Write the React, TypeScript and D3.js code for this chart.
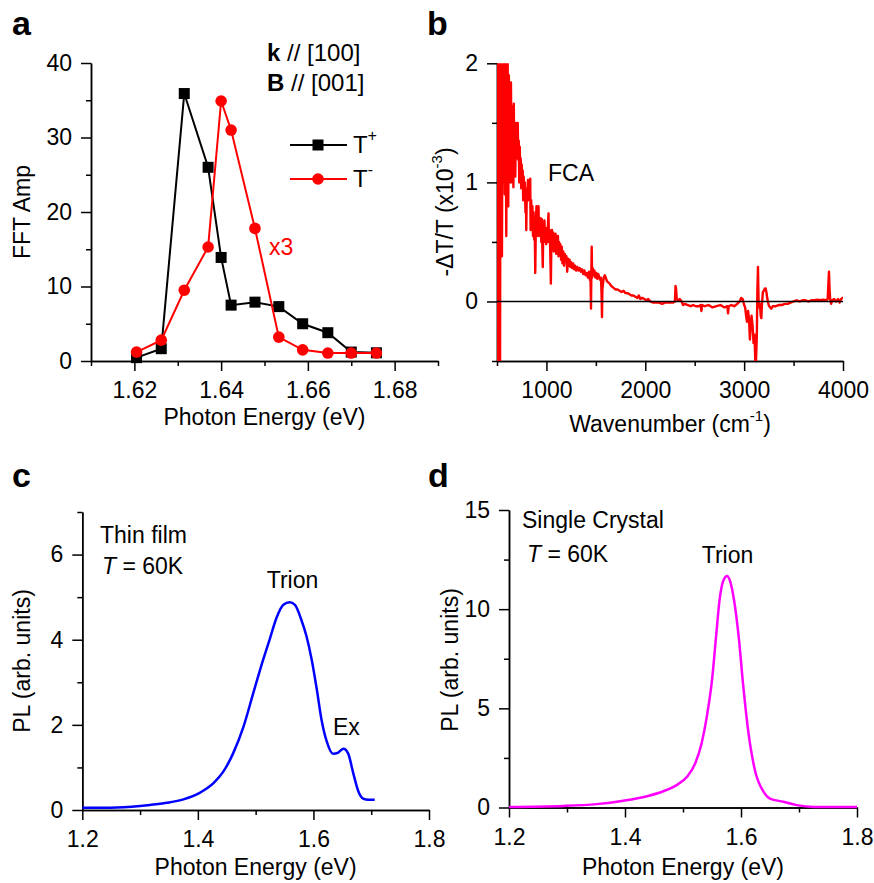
import * as d3 from 'd3';
import React, { useEffect, useRef } from 'react';

// panel a: FFT amplitude of the two trion branches
const panelAEnergy = [1.6205, 1.6262, 1.6315, 1.6370, 1.6400, 1.6423, 1.6478, 1.6533, 1.6588, 1.6646, 1.6700, 1.6758];
const tPlusAmp = [0.45, 1.65, 35.9, 26.0, 13.9, 7.5, 7.9, 7.3, 5.0, 3.8, 1.2, 1.1];
const tMinusAmp = [1.2, 2.8, 9.5, 15.3, 34.9, 31.0, 17.8, 3.2, 1.5, 1.07, 1.07, 1.07];

// panel b: free carrier absorption spectrum
const fcaWavenumber = [
    500, 503, 507, 511, 515, 519, 523, 527, 531, 535, 540, 545, 550, 555, 560, 566, 572, 578, 584, 590,
    594, 598, 603, 608, 614, 620, 626, 632, 637, 641, 646, 651, 656, 661, 666, 670, 675, 680, 685, 690,
    695, 700, 705, 710, 715, 720, 725, 730, 735, 740, 745, 750, 755, 760, 765, 770, 776, 782, 788, 793,
    796, 802, 808, 813, 818, 824, 830, 836, 840, 846, 852, 858, 864, 870, 876, 881, 887, 893, 899, 905,
    911, 916, 920, 925, 930, 936, 942, 948, 954, 959, 963, 968, 974, 980, 986, 992, 998, 1004, 1010, 1016,
    1021, 1026, 1032, 1038, 1045, 1050, 1056, 1062, 1068, 1074, 1080, 1086, 1092, 1098, 1104, 1110, 1116, 1122, 1128, 1134,
    1140, 1148, 1155, 1162, 1170, 1178, 1186, 1194, 1202, 1210, 1218, 1226, 1234, 1242, 1250, 1260, 1270, 1280, 1290, 1300,
    1312, 1324, 1336, 1348, 1360, 1372, 1384, 1396, 1408, 1420, 1432, 1440, 1446, 1451, 1455, 1458, 1462, 1468, 1475, 1485,
    1495, 1505, 1515, 1525, 1535, 1545, 1552, 1558, 1562, 1566, 1572, 1580, 1590, 1600, 1612, 1625, 1640, 1655, 1670, 1685,
    1700, 1720, 1740, 1760, 1780, 1800, 1820, 1840, 1860, 1880, 1900, 1920, 1935, 1950, 1970, 1990, 2010, 2030, 2050, 2080,
    2110, 2140, 2170, 2200, 2240, 2280, 2300, 2306, 2312, 2318, 2333, 2350, 2367, 2383, 2400, 2430, 2460, 2484, 2510, 2540,
    2560, 2568, 2575, 2600, 2640, 2680, 2720, 2760, 2800, 2830, 2837, 2844, 2870, 2900, 2930, 2955, 2970, 2985, 3000, 3010,
    3020, 3029, 3040, 3050, 3058, 3066, 3075, 3085, 3095, 3105, 3113, 3120, 3128, 3134, 3140, 3146, 3152, 3160, 3168, 3174,
    3180, 3190, 3200, 3210, 3217, 3225, 3235, 3248, 3262, 3275, 3290, 3320, 3350, 3380, 3410, 3440, 3470, 3500, 3530, 3560,
    3590, 3620, 3650, 3680, 3710, 3740, 3770, 3800, 3830, 3845, 3858, 3864, 3870, 3880, 3890, 3910, 3930, 3950, 3965, 3980,
    3995, 4000
];
const fcaSignal = [
    0.9, 2.0, -0.5, 2.0, 0.2, 2.0, 1.0, 2.0, -0.5, 2.0, 1.1, 2.0, 0.38, 1.7, 2.0, 1.0, 2.0, 0.9, 2.0, 1.2,
    0.55, 1.9, 1.1, 2.0, 0.8, 1.9, 1.2, 1.7, 1.0, 1.84, 1.3, 1.64, 1.0, 1.5, 0.96, 1.66, 1.1, 1.45, 1.05, 1.5,
    1.2, 1.4, 1.25, 1.5, 1.19, 1.35, 1.0, 1.3, 1.1, 1.2, 0.95, 1.15, 1.0, 1.1, 0.85, 1.05, 0.9, 1.0, 0.75, 0.9,
    0.6, 0.95, 0.85, 1.02, 0.85, 0.98, 0.85, 1.03, 0.6, 0.85, 0.7, 0.8, 0.55, 0.75, 0.52, 0.7, 0.24, 0.65, 0.8, 0.55,
    0.75, 0.6, 0.8, 0.55, 0.7, 0.6, 0.7, 0.5, 0.69, 0.45, 0.29, 0.6, 0.55, 0.68, 0.5, 0.62, 0.48, 0.6, 0.5, 0.65,
    0.74, 0.5, 0.6, 0.45, 0.15, 0.5, 0.6, 0.45, 0.58, 0.42, 0.55, 0.46, 0.57, 0.4, 0.52, 0.45, 0.55, 0.38, 0.5, 0.42,
    0.48, 0.35, 0.46, 0.32, 0.42, 0.3, 0.4, 0.34, 0.38, 0.25, 0.36, 0.3, 0.35, 0.29, 0.33, 0.28, 0.32, 0.27, 0.3, 0.26,
    0.29, 0.26, 0.28, 0.25, 0.27, 0.23, 0.26, 0.22, 0.24, 0.2, 0.25, 0.18, 0.2, -0.06, 0.3, 0.46, 0.2, 0.28, 0.22, 0.26,
    0.2, 0.24, 0.19, 0.23, 0.2, 0.18, 0.2, 0.05, -0.13, 0.1, 0.15, 0.2, 0.22, 0.2, 0.17, 0.16, 0.15, 0.13, 0.12, 0.11,
    0.1, 0.1, 0.09, 0.08, 0.09, 0.07, 0.07, 0.06, 0.05, 0.05, 0.04, 0.03, 0.05, 0.02, 0.03, 0.02, 0.01, 0.02, 0.0, -0.01,
    -0.01, -0.01, -0.02, -0.01, -0.01, -0.01, 0.0, 0.13, 0.1, 0.02, 0.01, 0.02, 0.0, -0.03, -0.02, -0.03, -0.04, -0.03, -0.04, -0.04,
    -0.03, -0.08, -0.03, -0.04, -0.03, -0.05, -0.04, -0.03, -0.05, -0.04, -0.1, -0.04, -0.03, -0.04, -0.02, 0.0, 0.03, 0.02, -0.03, -0.05,
    -0.12, -0.17, -0.08, -0.15, -0.32, -0.2, -0.12, -0.2, -0.35, -0.28, -0.5, -0.5, -0.3, 0.1, 0.29, 0.0, -0.05, -0.02, -0.12, -0.14,
    -0.02, 0.08, 0.09, 0.11, 0.11, 0.08, 0.02, -0.03, -0.05, -0.06, -0.04, -0.04, -0.03, -0.03, -0.02, -0.02, -0.01, 0.0, 0.01, 0.0,
    0.01, 0.01, 0.0, 0.01, 0.01, 0.015, 0.01, 0.015, 0.01, 0.02, 0.25, 0.1, 0.02, -0.02, 0.01, 0.02, 0.0, 0.02, -0.01, 0.02,
    0.03, 0.02
];

// panel c: thin film PL
const thinFilmEnergy = [1.2, 1.26, 1.317, 1.346, 1.375, 1.404, 1.427, 1.444, 1.461, 1.479, 1.496, 1.513, 1.525, 1.536, 1.548, 1.559, 1.568, 1.579, 1.588, 1.597, 1.606, 1.614, 1.623, 1.634, 1.643, 1.652, 1.66, 1.669, 1.678, 1.686, 1.695, 1.706];
const thinFilmPL = [0.05, 0.06, 0.12, 0.17, 0.25, 0.41, 0.63, 0.9, 1.33, 1.96, 2.75, 3.53, 4.04, 4.51, 4.82, 4.88, 4.82, 4.47, 4.08, 3.53, 2.82, 2.12, 1.61, 1.32, 1.35, 1.44, 1.33, 0.86, 0.43, 0.27, 0.24, 0.24];

// panel d: single crystal PL
const crystalEnergy = [1.2, 1.294, 1.351, 1.397, 1.438, 1.466, 1.489, 1.507, 1.521, 1.532, 1.541, 1.55, 1.557, 1.563, 1.57, 1.576, 1.581, 1.588, 1.596, 1.604, 1.613, 1.624, 1.639, 1.65, 1.673, 1.696, 1.725, 1.8];
const crystalPL = [0.03, 0.08, 0.17, 0.34, 0.57, 0.82, 1.13, 1.55, 2.22, 3.23, 4.57, 6.42, 8.61, 10.46, 11.47, 11.67, 11.43, 10.46, 8.61, 6.09, 3.73, 1.88, 0.79, 0.45, 0.29, 0.12, 0.03, 0.03];

const FONT = 'Arial, "Liberation Sans", Helvetica, sans-serif';
const FS = 23;

const drawAxes = (g, x, y, opts) => {
    const yBase = y.range()[0];
    const xBase = x.range()[0];
    const axes = [
        g.append('g').attr('transform', 'translate(0,' + yBase + ')')
            .call(d3.axisBottom(x).tickValues(opts.xMinor).tickSize(5).tickSizeOuter(0).tickFormat(() => '')),
        g.append('g').attr('transform', 'translate(0,' + yBase + ')')
            .call(d3.axisBottom(x).tickValues(opts.xMajor).tickSize(10).tickPadding(11).tickSizeOuter(0).tickFormat(opts.xFormat)),
        g.append('g').attr('transform', 'translate(' + xBase + ',0)')
            .call(d3.axisLeft(y).tickValues(opts.yMinor).tickSize(5).tickSizeOuter(0).tickFormat(() => '')),
        g.append('g').attr('transform', 'translate(' + xBase + ',0)')
            .call(d3.axisLeft(y).tickValues(opts.yMajor).tickSize(10).tickPadding(9).tickSizeOuter(0).tickFormat(opts.yFormat))
    ];
    axes.forEach(a => {
        a.attr('font-family', FONT).attr('font-size', FS);
        a.selectAll('path.domain').attr('stroke', '#000').attr('stroke-width', 1.5);
        a.selectAll('line').attr('stroke', '#000').attr('stroke-width', 1.5);
        a.selectAll('text').attr('fill', '#000');
    });
};

const addText = (g, x, y, txt, extra = {}) => {
    const t = g.append('text')
        .attr('x', x).attr('y', y)
        .attr('font-family', FONT).attr('font-size', extra.size || FS)
        .attr('fill', extra.color || '#000')
        .attr('text-anchor', extra.anchor || 'start');
    if (extra.weight) t.attr('font-weight', extra.weight);
    if (extra.rotate) t.attr('transform', 'rotate(-90,' + x + ',' + y + ')');
    if (typeof txt === 'string') {
        t.text(txt);
    } else {
        // list of [text, kind] pieces: kind 'sup', 'down', 'i', 'b' or ''
        txt.forEach(([s, kind]) => {
            const sp = t.append('tspan').text(s);
            if (kind === 'sup') sp.attr('font-size', (extra.size || FS) * 0.65).attr('dy', '-0.75em');
            if (kind === 'down') sp.attr('dy', '0.49em');
            if (kind === 'i') sp.attr('font-style', 'italic');
            if (kind === 'b') sp.attr('font-weight', 'bold');
        });
    }
    return t;
};

const App = () => {
    const svgRef = useRef(null);

    useEffect(() => {
        const svg = d3.select(svgRef.current);
        svg.selectAll('*').remove();

        // ---------- panel a ----------
        const ga = svg.append('g');
        const xa = d3.scaleLinear().domain([1.61, 1.69]).range([91, 438]);
        const ya = d3.scaleLinear().domain([0, 40]).range([361, 63]);
        drawAxes(ga, xa, ya, {
            xMajor: [1.62, 1.64, 1.66, 1.68], xMinor: [1.61, 1.63, 1.65, 1.67, 1.69],
            yMajor: [0, 10, 20, 30, 40], yMinor: [5, 15, 25, 35],
            xFormat: d3.format('.2f'), yFormat: d3.format('d')
        });
        const tPlus = panelAEnergy.map((e, i) => [e, tPlusAmp[i]]);
        const tMinus = panelAEnergy.map((e, i) => [e, tMinusAmp[i]]);
        const lineA = d3.line().x(d => xa(d[0])).y(d => ya(d[1]));
        ga.append('path').datum(tPlus).attr('fill', 'none').attr('stroke', '#000').attr('stroke-width', 2).attr('d', lineA);
        ga.selectAll('rect.tp').data(tPlus).enter().append('rect')
            .attr('x', d => xa(d[0]) - 5.5).attr('y', d => ya(d[1]) - 5.5)
            .attr('width', 11).attr('height', 11).attr('fill', '#000');
        ga.append('path').datum(tMinus).attr('fill', 'none').attr('stroke', '#ff0000').attr('stroke-width', 2).attr('d', lineA);
        ga.selectAll('circle.tm').data(tMinus).enter().append('circle')
            .attr('cx', d => xa(d[0])).attr('cy', d => ya(d[1])).attr('r', 5.8).attr('fill', '#ff0000');
        // legend
        ga.append('line').attr('x1', 290).attr('x2', 347).attr('y1', 145).attr('y2', 145).attr('stroke', '#000').attr('stroke-width', 2);
        ga.append('rect').attr('x', 312.5).attr('y', 139.5).attr('width', 11).attr('height', 11).attr('fill', '#000');
        ga.append('line').attr('x1', 290).attr('x2', 347).attr('y1', 179).attr('y2', 179).attr('stroke', '#ff0000').attr('stroke-width', 2);
        ga.append('circle').attr('cx', 318).attr('cy', 179).attr('r', 5.8).attr('fill', '#ff0000');
        addText(ga, 353, 153, [['T', ''], ['+', 'sup']], { size: 24 });
        addText(ga, 353, 187, [['T', ''], ['-', 'sup']], { size: 24 });
        addText(ga, 269, 255, 'x3', { color: '#ff0000' });
        addText(ga, 267, 61, [['k', 'b'], [' // [100]', '']], { size: 24 });
        addText(ga, 267, 91, [['B', 'b'], [' // [001]', '']], { size: 24 });
        addText(ga, 264.5, 425, 'Photon Energy (eV)', { anchor: 'middle' });
        addText(ga, 30, 212, 'FFT Amp', { anchor: 'middle', rotate: true });
        addText(ga, 12, 35, 'a', { size: 34, weight: 'bold' });

        // ---------- panel b ----------
        const gb = svg.append('g');
        const xb = d3.scaleLinear().domain([500, 4000]).range([497, 843]);
        const yb = d3.scaleLinear().domain([-0.5, 2]).range([361, 63.3]);
        drawAxes(gb, xb, yb, {
            xMajor: [1000, 2000, 3000, 4000], xMinor: [500, 1500, 2500, 3500],
            yMajor: [0, 1, 2], yMinor: [-0.5, 0.5, 1.5],
            xFormat: d3.format('d'), yFormat: d3.format('d')
        });
        gb.append('clipPath').attr('id', 'clip-b').append('rect')
            .attr('x', xb(500)).attr('y', yb(2)).attr('width', xb(4000) - xb(500)).attr('height', yb(-0.5) - yb(2));
        const fca = fcaWavenumber.map((w, i) => [w, fcaSignal[i]]);
        gb.append('path').datum(fca).attr('clip-path', 'url(#clip-b)')
            .attr('fill', 'none').attr('stroke', '#ff0000').attr('stroke-width', 2.4).attr('stroke-linejoin', 'round')
            .attr('d', d3.line().x(d => xb(d[0])).y(d => yb(d[1])));
        gb.append('line').attr('x1', xb(500)).attr('x2', xb(4000)).attr('y1', yb(0)).attr('y2', yb(0))
            .attr('stroke', '#000').attr('stroke-width', 1.5);
        addText(gb, 548, 181, 'FCA');
        addText(gb, 670, 432, [['Wavenumber (cm', ''], ['-1', 'sup'], [')', 'down']], { anchor: 'middle' });
        addText(gb, 453, 212, [['-\u0394T/T (x10', ''], ['-3', 'sup'], [')', 'down']], { anchor: 'middle', rotate: true });
        addText(gb, 427, 35, 'b', { size: 34, weight: 'bold' });

        // ---------- panel c ----------
        const gc = svg.append('g');
        const xc = d3.scaleLinear().domain([1.2, 1.8]).range([82.3, 429]);
        const yc = d3.scaleLinear().domain([0, 7]).range([810, 512]);
        drawAxes(gc, xc, yc, {
            xMajor: [1.2, 1.4, 1.6, 1.8], xMinor: [1.3, 1.5, 1.7],
            yMajor: [0, 2, 4, 6], yMinor: [1, 3, 5, 7],
            xFormat: d3.format('.1f'), yFormat: d3.format('d')
        });
        const film = thinFilmEnergy.map((e, i) => [e, thinFilmPL[i]]);
        gc.append('path').datum(film).attr('fill', 'none').attr('stroke', '#0000ff').attr('stroke-width', 2.5)
            .attr('d', d3.line().curve(d3.curveMonotoneX).x(d => xc(d[0])).y(d => yc(d[1])));
        addText(gc, 100, 543, 'Thin film');
        addText(gc, 102, 574, [['T', 'i'], [' = 60K', '']]);
        addText(gc, 292.5, 588, 'Trion', { anchor: 'middle' });
        addText(gc, 333, 735, 'Ex');
        addText(gc, 255.6, 875, 'Photon Energy (eV)', { anchor: 'middle' });
        addText(gc, 30, 661, 'PL (arb. units)', { anchor: 'middle', rotate: true });
        addText(gc, 12, 487, 'c', { size: 34, weight: 'bold' });

        // ---------- panel d ----------
        const gd = svg.append('g');
        const xd = d3.scaleLinear().domain([1.2, 1.8]).range([509, 857]);
        const yd = d3.scaleLinear().domain([0, 15]).range([807.5, 510]);
        drawAxes(gd, xd, yd, {
            xMajor: [1.2, 1.4, 1.6, 1.8], xMinor: [1.3, 1.5, 1.7],
            yMajor: [0, 5, 10, 15], yMinor: [2.5, 7.5, 12.5],
            xFormat: d3.format('.1f'), yFormat: d3.format('d')
        });
        const crystal = crystalEnergy.map((e, i) => [e, crystalPL[i]]);
        gd.append('path').datum(crystal).attr('fill', 'none').attr('stroke', '#ff00ff').attr('stroke-width', 2.5)
            .attr('d', d3.line().curve(d3.curveMonotoneX).x(d => xd(d[0])).y(d => yd(d[1])));
        addText(gd, 522, 528, 'Single Crystal');
        addText(gd, 527, 562, [['T', 'i'], [' = 60K', '']]);
        addText(gd, 727.5, 563, 'Trion', { anchor: 'middle' });
        addText(gd, 683, 875, 'Photon Energy (eV)', { anchor: 'middle' });
        addText(gd, 458, 660, 'PL (arb. units)', { anchor: 'middle', rotate: true });
        addText(gd, 428, 487, 'd', { size: 34, weight: 'bold' });
    }, []);

    return (
        <div style={{ position: 'absolute', left: 0, top: 0 }}>
            <svg ref={svgRef} width={874} height={883} style={{ display: 'block', background: '#fff' }} />
        </div>
    );
};

export default App;
